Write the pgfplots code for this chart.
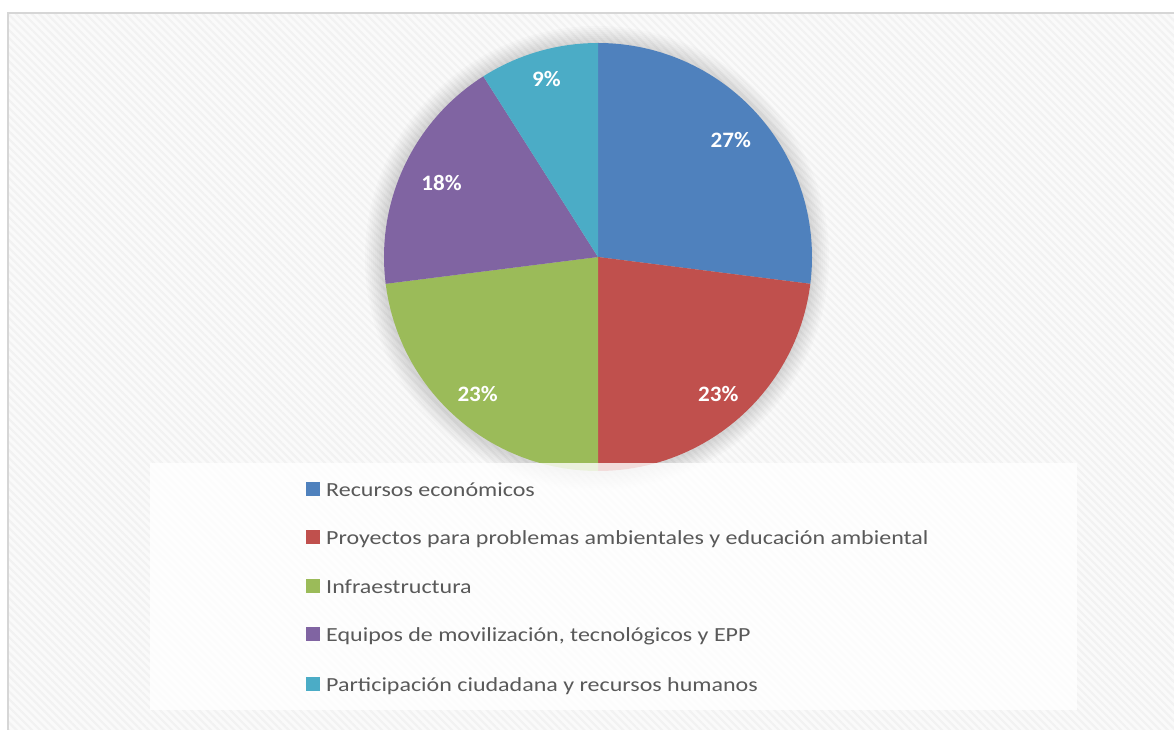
\documentclass[border=0pt]{standalone}
\usepackage{pgfplots}
\pgfplotsset{compat=1.18}
\usepackage{pgfplotstable}
\usepackage{fontspec}
\setmainfont{Carlito}
\newfontfamily\legfont[FakeStretch=1.2]{Carlito}
\newfontfamily\lblfont[FakeStretch=1.05]{Carlito}
\usetikzlibrary{patterns.meta}
\definecolor{cA}{HTML}{4F81BD}
\definecolor{cB}{HTML}{C0504D}
\definecolor{cC}{HTML}{9BBB59}
\definecolor{cD}{HTML}{8064A2}
\definecolor{cE}{HTML}{4BACC6}
\definecolor{legtext}{HTML}{595959}
\pgfplotstableread{
id pct col lr
A 27 cA 177
B 23 cB 182
C 23 cC 182
D 18 cD 173
E 9 cE 185
}\piedata
\tikzset{pctlbl/.style={text=white, inner sep=0pt, font=\lblfont\bfseries\fontsize{22}{22}\selectfont},
  legtxt/.style={anchor=base west, inner sep=0pt, text=legtext, font=\legfont\fontsize{20}{20}\selectfont}}
\begin{document}
\begin{tikzpicture}
\useasboundingbox (0,0) rectangle (1174pt,729pt);
\begin{axis}[at={(0,0)}, anchor=origin, x=1pt, y=1pt,
  xmin=0, xmax=1174, ymin=0, ymax=729, hide axis]
\fill[white] (axis cs:0,0) rectangle (axis cs:1174,729);
\fill[black!2] (axis cs:8,-10) rectangle (axis cs:1190,716);
\fill[pattern={Lines[angle=-45, distance=5.5pt, line width=2.2pt]}, pattern color=black!5]
  (axis cs:8,-10) rectangle (axis cs:1190,716);
\draw[black!16, line width=1.5pt] (axis cs:8,-10) rectangle (axis cs:1190,716);
% soft shadow
\pgfplotsforeachungrouped \k in {1,...,9}{
  \edef\temp{\noexpand\fill[black, opacity=0.015] (axis cs:597,471) circle[radius=\the\numexpr 214+2*\k\relax pt];}
  \temp
}
% pie
\def\cum{0}
\pgfplotsforeachungrouped \i in {0,...,4}{
  \pgfplotstablegetelem{\i}{pct}\of\piedata \let\v\pgfplotsretval
  \pgfplotstablegetelem{\i}{col}\of\piedata \let\c\pgfplotsretval
  \pgfmathsetmacro\sa{90-3.6*\cum}
  \pgfmathsetmacro\ea{90-3.6*(\cum+\v)}
  \edef\temp{\noexpand\fill[\c] (axis cs:598,472) -- ++(\sa:214pt) arc[start angle=\sa, end angle=\ea, radius=214pt] -- cycle;}
  \temp
  \pgfmathsetmacro\cum{\cum+\v}
}
\def\cum{0}
\pgfplotsforeachungrouped \i in {0,...,4}{
  \pgfplotstablegetelem{\i}{pct}\of\piedata \let\v\pgfplotsretval
  \pgfplotstablegetelem{\i}{lr}\of\piedata \let\lr\pgfplotsretval
  \pgfmathsetmacro\sa{90-3.6*\cum}
  \pgfmathsetmacro\ea{90-3.6*(\cum+\v)}
  \pgfmathsetmacro\ma{(\sa+\ea)/2}
  \edef\temp{\noexpand\path (axis cs:598,472) ++(\ma:\lr pt) node[pctlbl] {\v\noexpand\%};}
  \temp
  \pgfmathsetmacro\cum{\cum+\v}
}
% legend
\fill[white, opacity=0.8] (axis cs:150,19) rectangle (axis cs:1077,266);
\fill[cA] (axis cs:306,233) rectangle (axis cs:320,247);
\node[legtxt] at (axis cs:326,233) {Recursos económicos};
\fill[cB] (axis cs:306,185) rectangle (axis cs:320,199);
\node[legtxt] at (axis cs:326,185) {Proyectos para problemas ambientales y educación ambiental};
\fill[cC] (axis cs:306,136) rectangle (axis cs:320,150);
\node[legtxt] at (axis cs:326,136) {Infraestructura};
\fill[cD] (axis cs:306,88) rectangle (axis cs:320,102);
\node[legtxt] at (axis cs:326,88) {Equipos de movilización, tecnológicos y EPP};
\fill[cE] (axis cs:306,38) rectangle (axis cs:320,52);
\node[legtxt] at (axis cs:326,38) {Participación ciudadana y recursos humanos};
\end{axis}
\end{tikzpicture}
\end{document}
